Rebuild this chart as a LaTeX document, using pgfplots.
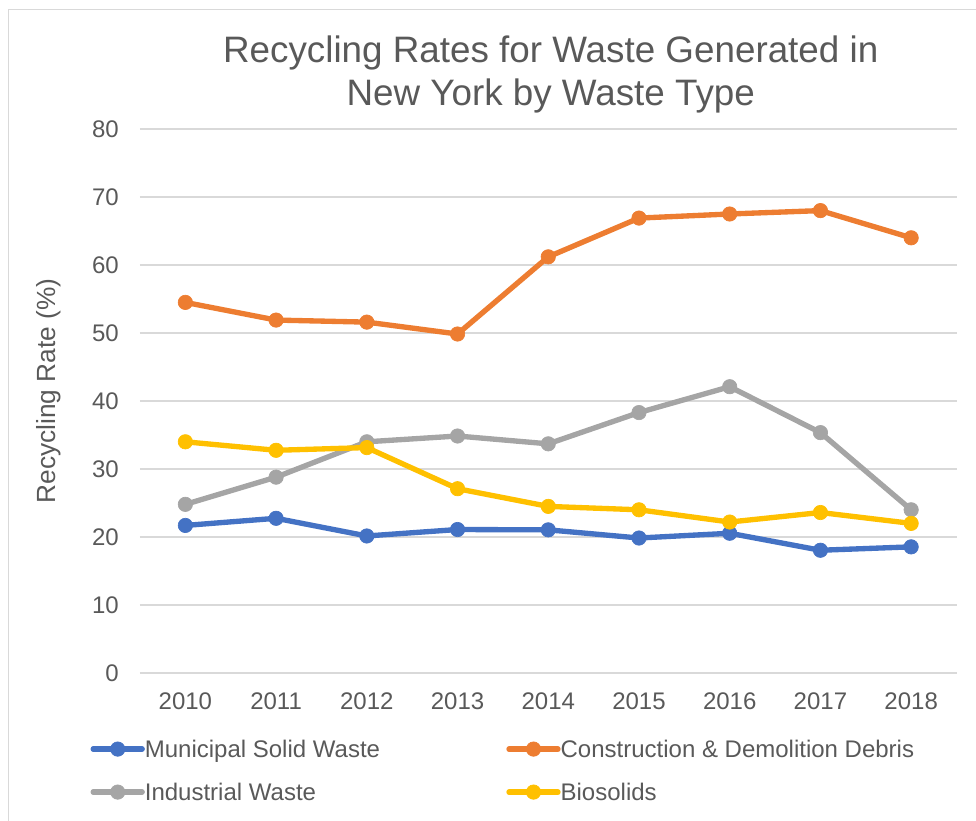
\documentclass[border=0pt]{standalone}
\usepackage{fontspec}
\setmainfont{Liberation Sans}
\usepackage{pgfplots}
\pgfplotsset{compat=1.18}
\definecolor{cblue}{HTML}{4472C4}
\definecolor{corange}{HTML}{ED7D31}
\definecolor{cgray}{HTML}{A5A5A5}
\definecolor{cyellow}{HTML}{FFC000}
\definecolor{txt}{HTML}{595959}
\definecolor{gridc}{HTML}{D9D9D9}
\begin{document}
\begin{tikzpicture}
\useasboundingbox (0,0) rectangle (732pt,615.75pt);
\draw[gridc, line width=0.9pt] (6.4pt,0pt) -- (6.4pt,608.6pt) -- (732pt,608.6pt);
\begin{axis}[
  at={(105pt,111pt)}, anchor=south west,
  width=612.4pt, height=408pt, scale only axis,
  xmin=2009.5, xmax=2018.5, ymin=0, ymax=80,
  xtick={2010,2011,2012,2013,2014,2015,2016,2017,2018},
  ytick={0,10,20,30,40,50,60,70,80},
  ymajorgrids, major grid style={gridc, line width=0.9pt},
  axis line style={draw=none},
  major tick length=0pt,
  /pgf/number format/assume math mode=true,
  /pgf/number format/1000 sep={},
  tick label style={font=\fontsize{18}{21}\selectfont, text=txt},
  xticklabel style={inner sep=0pt, yshift=-14.6pt},
  yticklabel style={inner sep=0pt, xshift=-15.75pt},
  ylabel={Recycling Rate (\%)},
  ylabel style={at={(axis description cs:-0.1041,0.5184)}, anchor=base, font=\fontsize{19.7}{23}\selectfont, text=txt},
  title={Recycling Rates for Waste Generated in\\New York by Waste Type},
  title style={at={(axis description cs:0.503,1.0294)}, anchor=base, align=center, font=\fontsize{27.6}{32.25}\selectfont, text=txt},
  legend columns=2,
  legend style={draw=none, fill=none, inner sep=0pt, outer sep=0pt,
    at={(axis description cs:-0.0606,-0.1237)}, anchor=north west,
    font=\fontsize{18}{21}\selectfont, text=txt,
    cells={anchor=base west},
    nodes={inner sep=0pt, text height=13pt, text depth=4pt},
    row sep=15.25pt,
    /tikz/every odd column/.append style={column sep=0pt},
    /tikz/every even column/.append style={column sep=94.7pt}},
  legend image code/.code={\draw[mark repeat=2, mark phase=2, #1] plot coordinates {(0pt,6.4pt)(18.4pt,6.4pt)(36.75pt,6.4pt)};},
  every axis plot/.append style={line width=4pt, line join=round, line cap=round, mark=*, mark size=5.4pt},
]
\addplot[color=cblue, mark options={solid, fill=cblue, line width=0.5pt}] coordinates {
(2010,21.7) (2011,22.75) (2012,20.15) (2013,21.1) (2014,21.05) (2015,19.85) (2016,20.55) (2017,18.05) (2018,18.55)};
\addlegendentry{Municipal Solid Waste}
\addplot[color=corange, mark options={solid, fill=corange, line width=0.5pt}] coordinates {
(2010,54.5) (2011,51.9) (2012,51.6) (2013,49.85) (2014,61.2) (2015,66.9) (2016,67.5) (2017,68.0) (2018,64.0)};
\addlegendentry{Construction \& Demolition Debris}
\addplot[color=cgray, mark options={solid, fill=cgray, line width=0.5pt}] coordinates {
(2010,24.8) (2011,28.8) (2012,34.0) (2013,34.85) (2014,33.7) (2015,38.3) (2016,42.1) (2017,35.35) (2018,24.0)};
\addlegendentry{Industrial Waste}
\addplot[color=cyellow, mark options={solid, fill=cyellow, line width=0.5pt}] coordinates {
(2010,34.0) (2011,32.75) (2012,33.15) (2013,27.1) (2014,24.5) (2015,24.0) (2016,22.2) (2017,23.6) (2018,22.0)};
\addlegendentry{Biosolids}
\end{axis}
\end{tikzpicture}
\end{document}
